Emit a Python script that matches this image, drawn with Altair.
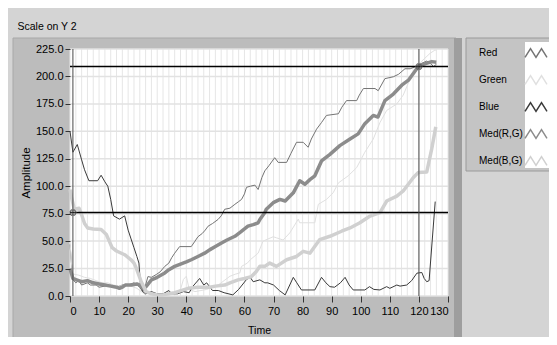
import altair as alt
import pandas as pd

# ---------------- data ----------------
series_names = ["Red", "Green", "Blue", "Med(R,G)", "Med(B,G)"]
series_colors = ["#747474", "#e0e0e0", "#3a3a3a", "#8c8c8c", "#d0d0d0"]
series_widths = [1, 1, 1, 3.5, 3.5]

red_t = [0, 0.5, 1, 2, 3, 4, 6, 7, 9, 10, 12, 14, 16, 18, 20, 22, 24, 25, 26, 26.8, 28, 29.7, 31, 32.6, 34, 35, 36,
         37.7, 41.7, 43, 44, 45.5, 46.5, 47.5, 49, 50.9, 52, 53.2, 55, 56.7, 58, 59, 60, 60.7, 62, 63.6, 64.7, 66,
         67, 68.5, 70.4, 71.6, 74.5, 76, 77.9, 80.2, 81.9, 83, 84.8, 86.5, 88.2, 92.3, 93.5, 95.1, 98.6, 99.5,
         100.9, 104.9, 106, 108.3, 111.2, 113, 115.2, 117, 119.8, 121, 122.7, 124, 125, 126]
red_v = [47, 30, 15, 12, 14, 10, 12, 10, 10, 8, 9, 10, 8, 10, 10, 12, 8, 4, 10, 17.7, 17, 19.6, 22, 27, 30, 35, 39,
         45, 45, 50, 54, 57, 60, 63.6, 66, 69.7, 73, 79, 80, 83.5, 86, 88, 93, 99, 100, 101, 97, 108,
         114, 119, 126, 121.7, 121.7, 130, 140, 140, 135.5, 143, 152, 158, 164.5, 166, 172, 178, 178, 183,
         189, 189, 187, 198, 199.7, 202, 207, 207, 210, 212, 214, 212, 209, 211]

green_t = [0, 0.5, 1, 3, 5, 7, 9, 11, 13, 15, 17, 19, 21, 23, 24.5, 26, 28, 30, 32, 34, 36, 38, 39, 40, 41, 43, 45,
           47, 49, 51, 53, 55, 57, 58.4, 59, 61, 62, 64.7, 66.4, 69.9, 71, 73.3, 75.6, 78.5, 79, 84.2, 85.4, 88.2,
           90.5, 92.3, 95.7, 98.6, 101.4, 104.3, 106.6, 108.9, 112.4, 114.6, 117, 119.3, 121, 123.8, 125.5, 126]
green_v = [50, 30, 20, 19, 17, 16, 14, 12, 12, 10, 9, 10, 9, 7, 4, 1, 0, 2, 1, 3, 2, 6, 15, 18, 6, 4, 5,
           6, 8, 10, 14, 18, 20, 21, 27, 30, 33, 39, 50, 54, 53, 51, 57.5, 70, 66.7, 66.7, 83.5, 88,
           94, 103, 109.5, 117, 131, 143, 158, 169, 175, 183, 198, 207, 214, 221, 224, 224]

blue_t = [0, 1, 2.5, 4, 5, 6.5, 9.5, 10.7, 12, 13, 14, 15, 17, 18.8, 20, 21, 22, 23, 23.7, 24.3, 25, 26, 28, 30,
          32, 34, 35, 37, 39, 41, 42, 44.6, 46, 47, 49, 51, 53, 56, 58, 60.7, 62, 63, 65.3, 67, 68, 70, 72, 74,
          76.8, 78, 79.6, 84.2, 86.5, 88, 89.4, 91, 93, 94.6, 96, 97.4, 101.4, 103, 104.5, 106.6, 108.9, 110,
          112.4, 113.5, 115.8, 117.5, 119.3, 121, 121.8, 122.7, 123.5, 125.6]
blue_v = [150, 131, 138, 124, 115, 105, 105, 110, 104, 100, 88, 73, 70, 73, 60, 52, 44, 36, 30, 8, 4, 2, 4, 2,
          2, 5, 2, 2, 4, 3, 8, 16, 10, 12, 5, 5, 3, 1, 6, 15, 17, 13, 14.7, 12, 12, 10, 5, 1,
          17, 12, 5.5, 5.5, 17, 12, 8.5, 8, 12, 17, 10, 5.5, 5.5, 8.5, 6, 5.5, 8.5, 7,
          10, 9, 10, 14, 20.8, 21.4, 16, 13, 14, 86]

medrg_t = [0, 1, 2, 4, 6, 8, 10, 12, 14, 16, 17, 18, 19, 21, 23, 24, 25, 26, 28, 30, 32.6, 34, 36, 38, 40, 41.7,
           44, 46.3, 48, 50, 52.1, 54, 56.7, 58.5, 61.2, 63, 64.7, 65.3, 67, 67.5, 69.9, 72.2, 74, 76.8, 79, 80.8,
           82.5, 84.2, 86.5, 89.4, 92.8, 96.3, 99.1, 101.4, 104.3, 105.9, 108.3, 111.2, 114.1, 116.4, 119.8,
           121.5, 124.4, 126]
medrg_v = [25, 16, 15, 13, 14, 12, 11, 10, 9, 8, 7, 8, 10, 10, 11, 10, 7, 8, 14.7, 17, 21, 24, 27, 29, 31, 33,
           36, 39, 42, 45, 48.3, 51, 54.4, 58, 63.6, 65, 66.7, 69.7, 76, 79, 85, 88, 86.5, 94, 105, 101.8,
           106, 109.5, 123, 129, 137, 143, 147.7, 157, 164.5, 163, 178, 184, 192, 196.6, 209,
           211, 213.5, 213]

medbg_t = [0, 0.5, 1.5, 3.1, 4, 5, 6.1, 8, 10.7, 12.5, 13.5, 14.5, 16, 18.8, 21, 22, 22.8, 24.5, 26.2, 28, 30, 32,
           34, 36, 37.1, 40.6, 44, 48, 50, 53.2, 55, 57.8, 60, 62.4, 64, 65.3, 67, 68.7, 71, 74.5, 77.9, 80.2,
           82.5, 85.9, 89.4, 93.4, 96.3, 99.7, 103.2, 106.6, 108.9, 112.4, 114.6, 118.1, 119.8, 122.7, 124.4,
           125.8]
medbg_v = [97, 90, 79, 80, 74, 66, 62, 61, 60.5, 56, 50, 44, 41, 37.6, 33, 30, 25.4, 13, 4, 2, 1, 1,
           2, 3, 4, 7, 8, 8, 9, 10, 12, 14.7, 16, 17.7, 22, 27, 27, 30, 27, 33, 36, 40.7,
           39, 51.4, 54.4, 59, 62, 66.7, 72.8, 75.9, 86.5, 91, 95.7, 108, 112.6, 113, 134,
           154]

x_ticks = list(range(0, 131, 10))
y_ticks = [0, 25, 50, 75, 100, 125, 150, 175, 200, 225]
grid_x = list(range(0, 131, 2))
grid_y = y_ticks
cursor_x = [1, 120]
cursor_y = [76, 209]

# ---------------- build tables ----------------
rows = []
for name, sw, ts, vs in zip(series_names, series_widths,
                            [red_t, green_t, blue_t, medrg_t, medbg_t],
                            [red_v, green_v, blue_v, medrg_v, medbg_v]):
    for i, (t, v) in enumerate(zip(ts, vs)):
        rows.append({"series": name, "sw": sw, "t": t, "v": v, "idx": i})
df = pd.DataFrame(rows)
gx_df = pd.DataFrame({"gx": grid_x})
gy_df = pd.DataFrame({"gy": grid_y})
cx_df = pd.DataFrame({"cx": cursor_x})
cy_df = pd.DataFrame({"cy": cursor_y})
marker_df = pd.DataFrame({"cx": cursor_x, "cy": cursor_y})
one = pd.DataFrame({"a": [0]})

FONT = "Liberation Sans, sans-serif"
W, H = 378, 247
xscale = alt.Scale(domain=[0, 130], nice=False, zero=False)
yscale = alt.Scale(domain=[0, 225], nice=False, zero=False)

xaxis = alt.Axis(values=x_ticks, format="d", title="Time", grid=False, domain=False,
                 tickSize=6, tickColor="#333333", labelPadding=3,
                 labelFont=FONT, labelFontSize=11, labelColor="black",
                 titleFont=FONT, titleFontSize=10.5, titleFontWeight="normal",
                 titleColor="black", titlePadding=9, zindex=1)
yaxis = alt.Axis(values=y_ticks, format=".1f", title="Amplitude", grid=False, domain=False,
                 tickSize=5, tickColor="#333333", labelPadding=2,
                 labelFont=FONT, labelFontSize=11, labelColor="black",
                 titleFont=FONT, titleFontSize=11.5, titleFontWeight="normal",
                 titleColor="black", titlePadding=4, zindex=1)

zig = "M-1,0.4L-0.5,-0.4L0,0.4L0.5,-0.4L1,0.4"
legend = alt.Legend(title=None, orient="none", legendX=411, legendY=-8,
                    symbolType=zig, symbolSize=484, symbolStrokeWidth=1.5,
                    labelOffset={"expr": "-69"}, symbolOffset=43,
                    labelFont=FONT, labelFontSize=10, labelColor="black",
                    rowPadding=7, padding=0, symbolFillColor="transparent")

# ---------------- decoration ----------------
panel = alt.Chart(one).mark_rect(color="#bcbcbc", stroke="#a8a8a8").encode(
    x=alt.value(-57), x2=alt.value(386), y=alt.value(-11), y2=alt.value(291))
shadow = alt.Chart(one).mark_rect(color="#9e9e9e").encode(
    x=alt.value(384), x2=alt.value(392), y=alt.value(-11), y2=alt.value(291))
legend_bg = alt.Chart(one).mark_rect(color="#c4c4c4", stroke="#9a9a9a").encode(
    x=alt.value(396), x2=alt.value(490), y=alt.value(-11), y2=alt.value(122))
legend_col = alt.Chart(one).mark_rect(color="white").encode(
    x=alt.value(455), x2=alt.value(479), y=alt.value(-7), y2=alt.value(119))

plot_bg = alt.Chart(one).mark_rect(color="white").encode(
    x=alt.X(datum=0, scale=xscale, axis=xaxis), x2=alt.X2(datum=130),
    y=alt.Y(datum=0, scale=yscale, axis=yaxis), y2=alt.Y2(datum=225))

vgrid = alt.Chart(gx_df).mark_rule(color="#e6e6e6", strokeWidth=1).encode(
    x=alt.X("gx:Q", scale=xscale, axis=xaxis))
hgrid = alt.Chart(gy_df).mark_rule(color="#e2e2e2", strokeWidth=1.5).encode(
    y=alt.Y("gy:Q", scale=yscale, axis=yaxis))

lines = alt.Chart(df).mark_line(strokeJoin="round").encode(
    x=alt.X("t:Q", scale=xscale, axis=xaxis),
    y=alt.Y("v:Q", scale=yscale, axis=yaxis),
    color=alt.Color("series:N", scale=alt.Scale(domain=series_names, range=series_colors), legend=legend),
    strokeWidth=alt.StrokeWidth("sw:Q", scale=None),
    order="idx:Q",
)

hcursor = alt.Chart(cy_df).mark_rule(color="black", strokeWidth=1.5).encode(
    y=alt.Y("cy:Q", scale=yscale, axis=yaxis))
vcursor = alt.Chart(cx_df).mark_rule(color="#4a4a4a", strokeWidth=1).encode(
    x=alt.X("cx:Q", scale=xscale, axis=xaxis))
markers_o = alt.Chart(marker_df).mark_point(shape="circle", size=40, color="#777777", strokeWidth=1).encode(
    x=alt.X("cx:Q", scale=xscale, axis=xaxis), y=alt.Y("cy:Q", scale=yscale, axis=yaxis))
markers_x = alt.Chart(marker_df).mark_point(shape="cross", angle=45, size=30, color="#555555",
                                            strokeWidth=1).encode(
    x=alt.X("cx:Q", scale=xscale, axis=xaxis), y=alt.Y("cy:Q", scale=yscale, axis=yaxis))

chart = alt.layer(
    panel, shadow, legend_bg, legend_col, plot_bg, vgrid, hgrid, lines, hcursor, vcursor, markers_o, markers_x
).properties(
    width=W, height=H,
    autosize=alt.AutoSizeParams(type="none"),
    padding={"left": 62, "top": 41, "right": 101, "bottom": 41},
    background="#d4d4d4",
    title=alt.TitleParams("Scale on Y 2", anchor="start", dx=5, offset=5, font=FONT, fontSize=10.5,
                          fontWeight="normal", color="black"),
).configure_view(stroke=None).configure_axis(zindex=1)

chart.save("out.html", embed_options={"renderer": "svg", "actions": False})
